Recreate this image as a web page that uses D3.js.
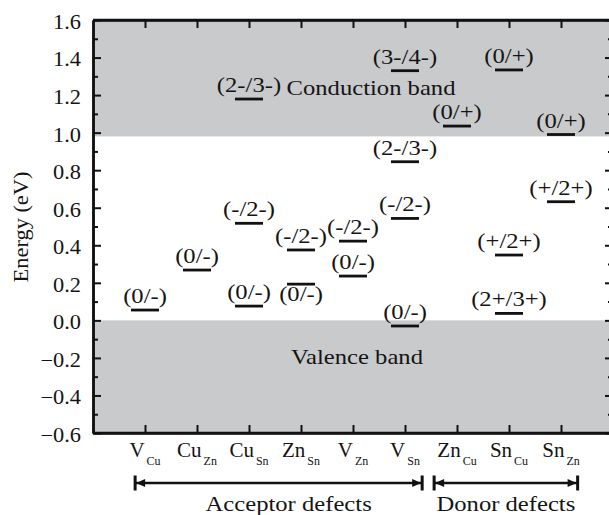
<!DOCTYPE html>
<html>
<head>
<meta charset="utf-8">
<script src="https://cdn.jsdelivr.net/npm/d3@7"></script>
<style>
  html, body { margin: 0; padding: 0; background: #fff; }
  svg { display: block; }
  text { font-family: "Liberation Serif", "Times New Roman", serif; fill: #141414; }
</style>
</head>
<body>
<div id="chart"></div>
<script>
// Defect sites (main symbol + subscript)
const categoryMain = ["V", "Cu", "Cu", "Zn", "V", "V", "Zn", "Sn", "Sn"];
const categorySub  = ["Cu", "Zn", "Sn", "Sn", "Zn", "Sn", "Cu", "Cu", "Zn"];
const categories = categoryMain.map((m, i) => m + "_" + categorySub[i]);

// Transition levels: defect, charge-state label, energy (eV)
const levelDefect = ["V_Cu", "Cu_Zn", "Cu_Sn", "Cu_Sn", "Cu_Sn", "Zn_Sn", "Zn_Sn", "V_Zn", "V_Zn",
                     "V_Sn", "V_Sn", "V_Sn", "V_Sn", "Zn_Cu", "Sn_Cu", "Sn_Cu", "Sn_Cu", "Sn_Zn", "Sn_Zn"];
const levelCharge = ["(0/-)", "(0/-)", "(0/-)", "(-/2-)", "(2-/3-)", "(0/-)", "(-/2-)", "(0/-)", "(-/2-)",
                     "(0/-)", "(-/2-)", "(2-/3-)", "(3-/4-)", "(0/+)", "(2+/3+)", "(+/2+)", "(0/+)", "(+/2+)", "(0/+)"];
const levelEnergy = [0.055, 0.268, 0.076, 0.517, 1.179, 0.193, 0.375, 0.236, 0.422,
                     -0.03, 0.543, 0.845, 1.33, 1.035, 0.037, 0.348, 1.334, 0.632, 0.99];

// Band edges (eV)
const valenceBandMax = 0.0;
const conductionBandMin = 0.98;

// Energy axis ticks
const yTickValues = [-0.6, -0.4, -0.2, 0.0, 0.2, 0.4, 0.6, 0.8, 1.0, 1.2, 1.4, 1.6];
const yMinorTicks = [-0.5, -0.3, -0.1, 0.1, 0.3, 0.5, 0.7, 0.9, 1.1, 1.3, 1.5];

// Defect groups along the bottom
const groupNames = ["Acceptor defects", "Donor defects"];
const groupFirst = ["V_Cu", "Zn_Cu"];
const groupLast  = ["V_Sn", "Sn_Zn"];

const W = 609, H = 515;
const SX = 1.12; // horizontal stretch of the lettering
const plot = { left: 93, right: 613, top: 20, bottom: 433 };

const svg = d3.select("#chart").append("svg")
  .attr("width", W).attr("height", H);

const x = d3.scalePoint().domain(categories).range([plot.left, plot.right]).padding(1);
const xs = x.step();
const y = d3.scaleLinear().domain([-0.6, 1.6]).range([plot.bottom, plot.top]);

function label(parent, px, py, str, size, anchor = "middle", rotate = 0) {
  const g = parent.append("g")
    .attr("transform", `translate(${px},${py}) rotate(${rotate}) scale(${SX},1)`);
  return g.append("text").attr("font-size", size).attr("text-anchor", anchor).text(str);
}

// Bands
const gray = "#c9cacb";
svg.append("rect")
  .attr("x", plot.left).attr("width", plot.right - plot.left)
  .attr("y", y(1.6)).attr("height", y(conductionBandMin) - y(1.6))
  .attr("fill", gray);
svg.append("rect")
  .attr("x", plot.left).attr("width", plot.right - plot.left)
  .attr("y", y(valenceBandMax)).attr("height", y(-0.6) - y(valenceBandMax))
  .attr("fill", gray);

label(svg, x("V_Zn") + 18, y(1.2), "Conduction band", 22);
label(svg, x("V_Zn") + 4, y(-0.23), "Valence band", 22);

// Axes
function styleAxis(g) {
  g.selectAll("path.domain").attr("stroke", "#111").attr("stroke-width", 2.5);
  g.selectAll(".tick line").attr("stroke", "#111").attr("stroke-width", 2);
}

const gLeft = svg.append("g").attr("transform", `translate(${plot.left},0)`)
  .call(d3.axisLeft(y).tickValues(yTickValues).tickSizeInner(-8).tickSizeOuter(0)
    .tickPadding(12).tickFormat(d3.format(".1f")))
  .call(styleAxis);
gLeft.selectAll(".tick text")
  .attr("font-size", 20)
  .attr("font-family", "Liberation Serif, serif")
  .attr("fill", "#141414")
  .attr("x", -12 / SX)
  .attr("dy", "0.42em")
  .attr("transform", `scale(${SX},1)`);

svg.append("g").attr("transform", `translate(${plot.left},0)`)
  .call(d3.axisLeft(y).tickValues(yMinorTicks).tickSizeInner(-5).tickSizeOuter(0).tickFormat(""))
  .call(styleAxis);

svg.append("g").attr("transform", `translate(${plot.right},0)`)
  .call(d3.axisRight(y).tickValues(yTickValues).tickSizeInner(-8).tickSizeOuter(0).tickFormat(""))
  .call(styleAxis);
svg.append("g").attr("transform", `translate(${plot.right},0)`)
  .call(d3.axisRight(y).tickValues(yMinorTicks).tickSizeInner(-5).tickSizeOuter(0).tickFormat(""))
  .call(styleAxis);

const xFrame = d3.scaleLinear().domain([0, 1]).range([plot.left, plot.right]);
svg.append("g").attr("transform", `translate(0,${plot.top})`)
  .call(d3.axisTop(x).tickSizeInner(-8).tickSizeOuter(0).tickFormat(""))
  .call(styleAxis);
svg.append("g").attr("transform", `translate(0,${plot.bottom})`)
  .call(d3.axisBottom(x).tickSizeInner(-8).tickSizeOuter(0).tickFormat(""))
  .call(styleAxis);
// frame lines across the full plot width
[plot.top, plot.bottom].forEach(py => {
  svg.append("line")
    .attr("x1", xFrame(0)).attr("x2", xFrame(1))
    .attr("y1", py).attr("y2", py)
    .attr("stroke", "#111").attr("stroke-width", 2.5);
});

// Category labels with subscripts
categories.forEach((c, i) => {
  const g = svg.append("g")
    .attr("transform", `translate(${x(c)},${plot.bottom + 24})`);
  const t = g.append("text").attr("text-anchor", "middle").attr("font-size", 21);
  t.append("tspan").text(categoryMain[i]);
  t.append("tspan").attr("font-size", 12).attr("dx", 2).attr("dy", 8).text(categorySub[i]);
});

// Y-axis title
label(svg, 28, 227, "Energy (eV)", 20, "middle", -90);

// Transition levels
const levelWidth = 28;
const belowLineLabels = new Set(["Zn_Sn(0/-)"]);
levelEnergy.forEach((e, i) => {
  const cx = x(levelDefect[i]);
  const ly = y(e);
  svg.append("line")
    .attr("x1", cx - levelWidth / 2).attr("x2", cx + levelWidth / 2)
    .attr("y1", ly).attr("y2", ly)
    .attr("stroke", "#111").attr("stroke-width", 2.8);
  const below = belowLineLabels.has(levelDefect[i] + levelCharge[i]);
  label(svg, cx, below ? ly + 17 : ly - 7, levelCharge[i], 22);
});

// Group brackets with arrows
const arrowY = 483;
const groupPad = [[-0.19, 0.33], [-0.44, 0.32]];
groupNames.forEach((name, i) => {
  const x1 = x(groupFirst[i]) + groupPad[i][0] * xs;
  const x2 = x(groupLast[i]) + groupPad[i][1] * xs;
  const g = svg.append("g");
  g.append("line").attr("x1", x1).attr("x2", x2).attr("y1", arrowY).attr("y2", arrowY)
    .attr("stroke", "#111").attr("stroke-width", 2.5);
  [x1, x2].forEach(bx => {
    g.append("line").attr("x1", bx).attr("x2", bx)
      .attr("y1", arrowY - 7.5).attr("y2", arrowY + 7.5)
      .attr("stroke", "#111").attr("stroke-width", 3);
  });
  g.append("path")
    .attr("d", `M${x1 + 1},${arrowY} L${x1 + 10},${arrowY - 4} L${x1 + 10},${arrowY + 4} Z`)
    .attr("fill", "#111");
  g.append("path")
    .attr("d", `M${x2 - 1},${arrowY} L${x2 - 10},${arrowY - 4} L${x2 - 10},${arrowY + 4} Z`)
    .attr("fill", "#111");
  label(svg, (x1 + x2) / 2 + (i === 0 ? 10 : 0), 511, name, 22);
});
</script>
</body>
</html>
